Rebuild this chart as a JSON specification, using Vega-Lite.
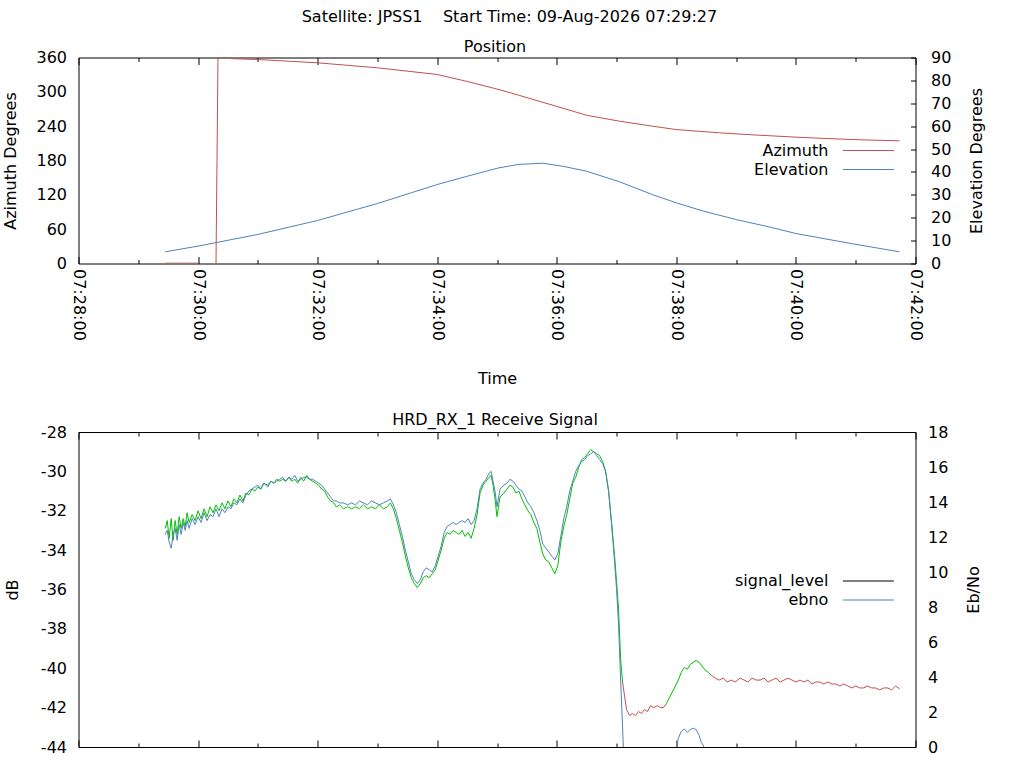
{
  "$schema": "https://vega.github.io/schema/vega-lite/v6.json",
  "background": "white",
  "padding": {"left": 1.5, "top": 8.5, "right": 10, "bottom": 0},
  "title": {"text": "Satellite: JPSS1\u00a0\u00a0\u00a0\u00a0Start Time: 09-Aug-2026 07:29:27", "anchor": "middle", "dx": 15.5, "offset": 13.5},
  "spacing": 23.5,
  "resolve": {"scale": {"color": "independent", "stroke": "independent"}, "legend": {"color": "independent", "stroke": "independent"}},
  "config": {
    "font": "DejaVu Sans",
    "view": {"stroke": "black", "strokeWidth": 1},
    "axis": {"domain": false, "grid": false, "labelFont": "DejaVu Sans", "labelFontSize": 16, "labelColor": "black", "titleFont": "DejaVu Sans", "titleFontSize": 16, "titleFontWeight": "normal", "titleColor": "black", "tickColor": "black", "tickWidth": 1, "labelOverlap": false},
    "title": {"font": "DejaVu Sans", "fontSize": 16, "fontWeight": "normal", "color": "black"},
    "legend": {"labelFont": "DejaVu Sans", "labelFontSize": 16, "labelColor": "black"},
    "line": {"strokeWidth": 1}
  },
  "datasets": {
    "az": [
      {"t": "2026-08-09T07:29:27", "v": 0.5, "seg": 1},
      {"t": "2026-08-09T07:30:01", "v": 0.5, "seg": 1},
      {"t": "2026-08-09T07:30:18", "v": 0, "seg": 2},
      {"t": "2026-08-09T07:30:19", "v": 180, "seg": 2},
      {"t": "2026-08-09T07:30:20", "v": 360, "seg": 2},
      {"t": "2026-08-09T07:30:32", "v": 360, "seg": 2},
      {"t": "2026-08-09T07:30:33", "v": 358, "seg": 2},
      {"t": "2026-08-09T07:31:00", "v": 356.5, "seg": 2},
      {"t": "2026-08-09T07:32:00", "v": 350.7, "seg": 2},
      {"t": "2026-08-09T07:33:00", "v": 342, "seg": 2},
      {"t": "2026-08-09T07:34:00", "v": 330.3, "seg": 2},
      {"t": "2026-08-09T07:34:29", "v": 318.6, "seg": 2},
      {"t": "2026-08-09T07:35:02", "v": 304, "seg": 2},
      {"t": "2026-08-09T07:35:22", "v": 294, "seg": 2},
      {"t": "2026-08-09T07:35:59", "v": 275, "seg": 2},
      {"t": "2026-08-09T07:36:30", "v": 259, "seg": 2},
      {"t": "2026-08-09T07:37:03", "v": 248.7, "seg": 2},
      {"t": "2026-08-09T07:37:36", "v": 240, "seg": 2},
      {"t": "2026-08-09T07:38:00", "v": 234, "seg": 2},
      {"t": "2026-08-09T07:38:43", "v": 228.4, "seg": 2},
      {"t": "2026-08-09T07:39:17", "v": 224.8, "seg": 2},
      {"t": "2026-08-09T07:40:00", "v": 220.8, "seg": 2},
      {"t": "2026-08-09T07:40:31", "v": 218.4, "seg": 2},
      {"t": "2026-08-09T07:41:04", "v": 216.2, "seg": 2},
      {"t": "2026-08-09T07:41:44", "v": 214.4, "seg": 2}
    ],
    "el": [
      {"t": "2026-08-09T07:29:27", "v": 5.1},
      {"t": "2026-08-09T07:30:00", "v": 7.6},
      {"t": "2026-08-09T07:31:00", "v": 12.7},
      {"t": "2026-08-09T07:32:00", "v": 18.8},
      {"t": "2026-08-09T07:33:00", "v": 26.2},
      {"t": "2026-08-09T07:34:00", "v": 34.5},
      {"t": "2026-08-09T07:34:29", "v": 38.0},
      {"t": "2026-08-09T07:35:02", "v": 41.8},
      {"t": "2026-08-09T07:35:22", "v": 43.3},
      {"t": "2026-08-09T07:35:46", "v": 43.8},
      {"t": "2026-08-09T07:36:06", "v": 42.5},
      {"t": "2026-08-09T07:36:30", "v": 40.3},
      {"t": "2026-08-09T07:37:03", "v": 35.7},
      {"t": "2026-08-09T07:37:36", "v": 30.1},
      {"t": "2026-08-09T07:38:00", "v": 26.5},
      {"t": "2026-08-09T07:38:27", "v": 22.9},
      {"t": "2026-08-09T07:39:00", "v": 19.2},
      {"t": "2026-08-09T07:39:34", "v": 15.9},
      {"t": "2026-08-09T07:40:00", "v": 13.1},
      {"t": "2026-08-09T07:40:24", "v": 11.2},
      {"t": "2026-08-09T07:40:57", "v": 8.6},
      {"t": "2026-08-09T07:41:44", "v": 5.1}
    ],
    "sig": [
      {"t": "2026-08-09T07:29:27", "s": -32.9, "seg": 1},
      {"t": "2026-08-09T07:29:29", "s": -32.5, "seg": 1},
      {"t": "2026-08-09T07:29:31", "s": -33.4, "seg": 1},
      {"t": "2026-08-09T07:29:33", "s": -32.4, "seg": 1},
      {"t": "2026-08-09T07:29:35", "s": -33.5, "seg": 1},
      {"t": "2026-08-09T07:29:37", "s": -32.5, "seg": 1},
      {"t": "2026-08-09T07:29:39", "s": -33.2, "seg": 1},
      {"t": "2026-08-09T07:29:41", "s": -32.3, "seg": 1},
      {"t": "2026-08-09T07:29:43", "s": -32.9, "seg": 1},
      {"t": "2026-08-09T07:29:45", "s": -32.4, "seg": 1},
      {"t": "2026-08-09T07:29:47", "s": -32.8, "seg": 1},
      {"t": "2026-08-09T07:29:49", "s": -32.1, "seg": 1},
      {"t": "2026-08-09T07:29:51", "s": -32.6, "seg": 1},
      {"t": "2026-08-09T07:29:54", "s": -32.2, "seg": 1},
      {"t": "2026-08-09T07:29:57", "s": -32.5, "seg": 1},
      {"t": "2026-08-09T07:30:00", "s": -32.0, "seg": 1},
      {"t": "2026-08-09T07:30:03", "s": -32.4, "seg": 1},
      {"t": "2026-08-09T07:30:06", "s": -31.9, "seg": 1},
      {"t": "2026-08-09T07:30:09", "s": -32.3, "seg": 1},
      {"t": "2026-08-09T07:30:12", "s": -31.8, "seg": 1},
      {"t": "2026-08-09T07:30:15", "s": -32.1, "seg": 1},
      {"t": "2026-08-09T07:30:18", "s": -31.7, "seg": 1},
      {"t": "2026-08-09T07:30:21", "s": -32.0, "seg": 1},
      {"t": "2026-08-09T07:30:24", "s": -31.6, "seg": 1},
      {"t": "2026-08-09T07:30:27", "s": -31.9, "seg": 1},
      {"t": "2026-08-09T07:30:30", "s": -31.5, "seg": 1},
      {"t": "2026-08-09T07:30:33", "s": -31.8, "seg": 1},
      {"t": "2026-08-09T07:30:36", "s": -31.4, "seg": 1},
      {"t": "2026-08-09T07:30:39", "s": -31.6, "seg": 1},
      {"t": "2026-08-09T07:30:42", "s": -31.2, "seg": 1},
      {"t": "2026-08-09T07:30:45", "s": -31.5, "seg": 1},
      {"t": "2026-08-09T07:30:48", "s": -31.1, "seg": 1},
      {"t": "2026-08-09T07:30:51", "s": -31.2, "seg": 1},
      {"t": "2026-08-09T07:30:54", "s": -30.9, "seg": 1},
      {"t": "2026-08-09T07:30:57", "s": -31.0, "seg": 1},
      {"t": "2026-08-09T07:31:00", "s": -30.8, "seg": 1},
      {"t": "2026-08-09T07:31:03", "s": -30.9, "seg": 1},
      {"t": "2026-08-09T07:31:06", "s": -30.6, "seg": 1},
      {"t": "2026-08-09T07:31:10", "s": -30.7, "seg": 1},
      {"t": "2026-08-09T07:31:13", "s": -30.5, "seg": 1},
      {"t": "2026-08-09T07:31:16", "s": -30.6, "seg": 1},
      {"t": "2026-08-09T07:31:19", "s": -30.4, "seg": 1},
      {"t": "2026-08-09T07:31:22", "s": -30.5, "seg": 1},
      {"t": "2026-08-09T07:31:25", "s": -30.4, "seg": 1},
      {"t": "2026-08-09T07:31:28", "s": -30.5, "seg": 1},
      {"t": "2026-08-09T07:31:31", "s": -30.3, "seg": 1},
      {"t": "2026-08-09T07:31:34", "s": -30.5, "seg": 1},
      {"t": "2026-08-09T07:31:37", "s": -30.4, "seg": 1},
      {"t": "2026-08-09T07:31:40", "s": -30.6, "seg": 1},
      {"t": "2026-08-09T07:31:43", "s": -30.3, "seg": 1},
      {"t": "2026-08-09T07:31:46", "s": -30.5, "seg": 1},
      {"t": "2026-08-09T07:31:49", "s": -30.2, "seg": 1},
      {"t": "2026-08-09T07:31:52", "s": -30.4, "seg": 1},
      {"t": "2026-08-09T07:31:55", "s": -30.5, "seg": 1},
      {"t": "2026-08-09T07:31:58", "s": -30.6, "seg": 1},
      {"t": "2026-08-09T07:32:01", "s": -30.7, "seg": 1},
      {"t": "2026-08-09T07:32:04", "s": -30.9, "seg": 1},
      {"t": "2026-08-09T07:32:07", "s": -31.0, "seg": 1},
      {"t": "2026-08-09T07:32:10", "s": -31.3, "seg": 1},
      {"t": "2026-08-09T07:32:13", "s": -31.5, "seg": 1},
      {"t": "2026-08-09T07:32:16", "s": -31.6, "seg": 1},
      {"t": "2026-08-09T07:32:19", "s": -31.8, "seg": 1},
      {"t": "2026-08-09T07:32:22", "s": -31.7, "seg": 1},
      {"t": "2026-08-09T07:32:26", "s": -31.9, "seg": 1},
      {"t": "2026-08-09T07:32:30", "s": -31.8, "seg": 1},
      {"t": "2026-08-09T07:32:34", "s": -31.9, "seg": 1},
      {"t": "2026-08-09T07:32:38", "s": -31.8, "seg": 1},
      {"t": "2026-08-09T07:32:42", "s": -31.9, "seg": 1},
      {"t": "2026-08-09T07:32:46", "s": -31.7, "seg": 1},
      {"t": "2026-08-09T07:32:50", "s": -31.9, "seg": 1},
      {"t": "2026-08-09T07:32:54", "s": -31.8, "seg": 1},
      {"t": "2026-08-09T07:32:58", "s": -31.9, "seg": 1},
      {"t": "2026-08-09T07:33:02", "s": -31.7, "seg": 1},
      {"t": "2026-08-09T07:33:06", "s": -31.9, "seg": 1},
      {"t": "2026-08-09T07:33:10", "s": -31.8, "seg": 1},
      {"t": "2026-08-09T07:33:13", "s": -31.6, "seg": 1},
      {"t": "2026-08-09T07:33:16", "s": -31.9, "seg": 1},
      {"t": "2026-08-09T07:33:19", "s": -32.4, "seg": 1},
      {"t": "2026-08-09T07:33:22", "s": -33.0, "seg": 1},
      {"t": "2026-08-09T07:33:25", "s": -33.6, "seg": 1},
      {"t": "2026-08-09T07:33:28", "s": -34.3, "seg": 1},
      {"t": "2026-08-09T07:33:31", "s": -34.9, "seg": 1},
      {"t": "2026-08-09T07:33:34", "s": -35.4, "seg": 1},
      {"t": "2026-08-09T07:33:37", "s": -35.7, "seg": 1},
      {"t": "2026-08-09T07:33:40", "s": -35.9, "seg": 1},
      {"t": "2026-08-09T07:33:43", "s": -35.7, "seg": 1},
      {"t": "2026-08-09T07:33:46", "s": -35.4, "seg": 1},
      {"t": "2026-08-09T07:33:49", "s": -35.3, "seg": 1},
      {"t": "2026-08-09T07:33:52", "s": -35.4, "seg": 1},
      {"t": "2026-08-09T07:33:55", "s": -35.2, "seg": 1},
      {"t": "2026-08-09T07:33:58", "s": -35.0, "seg": 1},
      {"t": "2026-08-09T07:34:01", "s": -34.5, "seg": 1},
      {"t": "2026-08-09T07:34:04", "s": -34.0, "seg": 1},
      {"t": "2026-08-09T07:34:07", "s": -33.4, "seg": 1},
      {"t": "2026-08-09T07:34:10", "s": -33.1, "seg": 1},
      {"t": "2026-08-09T07:34:13", "s": -33.2, "seg": 1},
      {"t": "2026-08-09T07:34:16", "s": -33.0, "seg": 1},
      {"t": "2026-08-09T07:34:19", "s": -33.1, "seg": 1},
      {"t": "2026-08-09T07:34:22", "s": -33.2, "seg": 1},
      {"t": "2026-08-09T07:34:25", "s": -33.0, "seg": 1},
      {"t": "2026-08-09T07:34:28", "s": -33.3, "seg": 1},
      {"t": "2026-08-09T07:34:31", "s": -33.1, "seg": 1},
      {"t": "2026-08-09T07:34:34", "s": -33.4, "seg": 1},
      {"t": "2026-08-09T07:34:37", "s": -32.9, "seg": 1},
      {"t": "2026-08-09T07:34:40", "s": -32.2, "seg": 1},
      {"t": "2026-08-09T07:34:43", "s": -31.1, "seg": 1},
      {"t": "2026-08-09T07:34:46", "s": -30.7, "seg": 1},
      {"t": "2026-08-09T07:34:49", "s": -30.5, "seg": 1},
      {"t": "2026-08-09T07:34:52", "s": -30.3, "seg": 1},
      {"t": "2026-08-09T07:34:54", "s": -30.2, "seg": 1},
      {"t": "2026-08-09T07:34:56", "s": -30.7, "seg": 1},
      {"t": "2026-08-09T07:34:58", "s": -31.4, "seg": 1},
      {"t": "2026-08-09T07:35:00", "s": -32.3, "seg": 1},
      {"t": "2026-08-09T07:35:03", "s": -31.3, "seg": 1},
      {"t": "2026-08-09T07:35:07", "s": -31.1, "seg": 1},
      {"t": "2026-08-09T07:35:10", "s": -30.9, "seg": 1},
      {"t": "2026-08-09T07:35:13", "s": -30.7, "seg": 1},
      {"t": "2026-08-09T07:35:16", "s": -30.8, "seg": 1},
      {"t": "2026-08-09T07:35:19", "s": -31.1, "seg": 1},
      {"t": "2026-08-09T07:35:22", "s": -31.0, "seg": 1},
      {"t": "2026-08-09T07:35:25", "s": -31.4, "seg": 1},
      {"t": "2026-08-09T07:35:28", "s": -31.7, "seg": 1},
      {"t": "2026-08-09T07:35:31", "s": -32.0, "seg": 1},
      {"t": "2026-08-09T07:35:34", "s": -32.2, "seg": 1},
      {"t": "2026-08-09T07:35:37", "s": -32.6, "seg": 1},
      {"t": "2026-08-09T07:35:40", "s": -32.9, "seg": 1},
      {"t": "2026-08-09T07:35:43", "s": -33.6, "seg": 1},
      {"t": "2026-08-09T07:35:46", "s": -34.2, "seg": 1},
      {"t": "2026-08-09T07:35:49", "s": -34.5, "seg": 1},
      {"t": "2026-08-09T07:35:52", "s": -34.6, "seg": 1},
      {"t": "2026-08-09T07:35:55", "s": -34.9, "seg": 1},
      {"t": "2026-08-09T07:35:58", "s": -35.2, "seg": 1},
      {"t": "2026-08-09T07:36:01", "s": -34.8, "seg": 1},
      {"t": "2026-08-09T07:36:04", "s": -33.6, "seg": 1},
      {"t": "2026-08-09T07:36:07", "s": -32.8, "seg": 1},
      {"t": "2026-08-09T07:36:10", "s": -32.2, "seg": 1},
      {"t": "2026-08-09T07:36:13", "s": -31.4, "seg": 1},
      {"t": "2026-08-09T07:36:16", "s": -30.6, "seg": 1},
      {"t": "2026-08-09T07:36:19", "s": -30.3, "seg": 1},
      {"t": "2026-08-09T07:36:22", "s": -29.8, "seg": 1},
      {"t": "2026-08-09T07:36:25", "s": -29.4, "seg": 1},
      {"t": "2026-08-09T07:36:28", "s": -29.3, "seg": 1},
      {"t": "2026-08-09T07:36:31", "s": -29.1, "seg": 1},
      {"t": "2026-08-09T07:36:34", "s": -28.9, "seg": 1},
      {"t": "2026-08-09T07:36:37", "s": -29.0, "seg": 1},
      {"t": "2026-08-09T07:36:40", "s": -29.1, "seg": 1},
      {"t": "2026-08-09T07:36:43", "s": -29.2, "seg": 1},
      {"t": "2026-08-09T07:36:46", "s": -29.5, "seg": 1},
      {"t": "2026-08-09T07:36:49", "s": -30.0, "seg": 1},
      {"t": "2026-08-09T07:36:52", "s": -31.0, "seg": 1},
      {"t": "2026-08-09T07:36:55", "s": -32.6, "seg": 1},
      {"t": "2026-08-09T07:36:58", "s": -34.3, "seg": 1},
      {"t": "2026-08-09T07:37:00", "s": -35.6, "seg": 1},
      {"t": "2026-08-09T07:37:02", "s": -37.0, "seg": 1},
      {"t": "2026-08-09T07:37:04", "s": -39.5, "seg": 1},
      {"t": "2026-08-09T07:37:06", "s": -40.7, "seg": 1},
      {"t": "2026-08-09T07:37:06", "s": -40.7, "seg": 2},
      {"t": "2026-08-09T07:37:08", "s": -41.4, "seg": 2},
      {"t": "2026-08-09T07:37:10", "s": -42.1, "seg": 2},
      {"t": "2026-08-09T07:37:13", "s": -42.4, "seg": 2},
      {"t": "2026-08-09T07:37:16", "s": -42.3, "seg": 2},
      {"t": "2026-08-09T07:37:19", "s": -42.4, "seg": 2},
      {"t": "2026-08-09T07:37:22", "s": -42.2, "seg": 2},
      {"t": "2026-08-09T07:37:25", "s": -42.3, "seg": 2},
      {"t": "2026-08-09T07:37:28", "s": -42.1, "seg": 2},
      {"t": "2026-08-09T07:37:31", "s": -42.2, "seg": 2},
      {"t": "2026-08-09T07:37:34", "s": -41.9, "seg": 2},
      {"t": "2026-08-09T07:37:37", "s": -42.0, "seg": 2},
      {"t": "2026-08-09T07:37:41", "s": -41.9, "seg": 2},
      {"t": "2026-08-09T07:37:44", "s": -42.0, "seg": 2},
      {"t": "2026-08-09T07:37:47", "s": -42.0, "seg": 2},
      {"t": "2026-08-09T07:37:50", "s": -41.8, "seg": 2},
      {"t": "2026-08-09T07:37:50", "s": -41.8, "seg": 3},
      {"t": "2026-08-09T07:37:53", "s": -41.5, "seg": 3},
      {"t": "2026-08-09T07:37:56", "s": -41.2, "seg": 3},
      {"t": "2026-08-09T07:37:59", "s": -40.9, "seg": 3},
      {"t": "2026-08-09T07:38:02", "s": -40.6, "seg": 3},
      {"t": "2026-08-09T07:38:05", "s": -40.2, "seg": 3},
      {"t": "2026-08-09T07:38:08", "s": -39.95, "seg": 3},
      {"t": "2026-08-09T07:38:11", "s": -40.05, "seg": 3},
      {"t": "2026-08-09T07:38:14", "s": -39.8, "seg": 3},
      {"t": "2026-08-09T07:38:17", "s": -39.7, "seg": 3},
      {"t": "2026-08-09T07:38:20", "s": -39.6, "seg": 3},
      {"t": "2026-08-09T07:38:23", "s": -39.7, "seg": 3},
      {"t": "2026-08-09T07:38:26", "s": -39.9, "seg": 3},
      {"t": "2026-08-09T07:38:29", "s": -40.1, "seg": 3},
      {"t": "2026-08-09T07:38:32", "s": -40.2, "seg": 3},
      {"t": "2026-08-09T07:38:35", "s": -40.35, "seg": 3},
      {"t": "2026-08-09T07:38:35", "s": -40.35, "seg": 4},
      {"t": "2026-08-09T07:38:39", "s": -40.5, "seg": 4},
      {"t": "2026-08-09T07:38:43", "s": -40.6, "seg": 4},
      {"t": "2026-08-09T07:38:47", "s": -40.5, "seg": 4},
      {"t": "2026-08-09T07:38:51", "s": -40.7, "seg": 4},
      {"t": "2026-08-09T07:38:55", "s": -40.6, "seg": 4},
      {"t": "2026-08-09T07:38:59", "s": -40.7, "seg": 4},
      {"t": "2026-08-09T07:39:04", "s": -40.5, "seg": 4},
      {"t": "2026-08-09T07:39:08", "s": -40.6, "seg": 4},
      {"t": "2026-08-09T07:39:12", "s": -40.7, "seg": 4},
      {"t": "2026-08-09T07:39:16", "s": -40.5, "seg": 4},
      {"t": "2026-08-09T07:39:20", "s": -40.6, "seg": 4},
      {"t": "2026-08-09T07:39:24", "s": -40.6, "seg": 4},
      {"t": "2026-08-09T07:39:28", "s": -40.5, "seg": 4},
      {"t": "2026-08-09T07:39:32", "s": -40.7, "seg": 4},
      {"t": "2026-08-09T07:39:36", "s": -40.6, "seg": 4},
      {"t": "2026-08-09T07:39:40", "s": -40.5, "seg": 4},
      {"t": "2026-08-09T07:39:44", "s": -40.7, "seg": 4},
      {"t": "2026-08-09T07:39:48", "s": -40.6, "seg": 4},
      {"t": "2026-08-09T07:39:52", "s": -40.5, "seg": 4},
      {"t": "2026-08-09T07:39:56", "s": -40.6, "seg": 4},
      {"t": "2026-08-09T07:40:00", "s": -40.7, "seg": 4},
      {"t": "2026-08-09T07:40:04", "s": -40.6, "seg": 4},
      {"t": "2026-08-09T07:40:08", "s": -40.7, "seg": 4},
      {"t": "2026-08-09T07:40:12", "s": -40.6, "seg": 4},
      {"t": "2026-08-09T07:40:16", "s": -40.8, "seg": 4},
      {"t": "2026-08-09T07:40:20", "s": -40.7, "seg": 4},
      {"t": "2026-08-09T07:40:24", "s": -40.7, "seg": 4},
      {"t": "2026-08-09T07:40:28", "s": -40.8, "seg": 4},
      {"t": "2026-08-09T07:40:32", "s": -40.7, "seg": 4},
      {"t": "2026-08-09T07:40:36", "s": -40.8, "seg": 4},
      {"t": "2026-08-09T07:40:40", "s": -40.8, "seg": 4},
      {"t": "2026-08-09T07:40:44", "s": -40.9, "seg": 4},
      {"t": "2026-08-09T07:40:48", "s": -40.8, "seg": 4},
      {"t": "2026-08-09T07:40:52", "s": -40.9, "seg": 4},
      {"t": "2026-08-09T07:40:56", "s": -41.0, "seg": 4},
      {"t": "2026-08-09T07:41:00", "s": -40.9, "seg": 4},
      {"t": "2026-08-09T07:41:04", "s": -41.0, "seg": 4},
      {"t": "2026-08-09T07:41:08", "s": -41.0, "seg": 4},
      {"t": "2026-08-09T07:41:12", "s": -40.9, "seg": 4},
      {"t": "2026-08-09T07:41:16", "s": -41.0, "seg": 4},
      {"t": "2026-08-09T07:41:20", "s": -41.0, "seg": 4},
      {"t": "2026-08-09T07:41:24", "s": -41.1, "seg": 4},
      {"t": "2026-08-09T07:41:28", "s": -41.0, "seg": 4},
      {"t": "2026-08-09T07:41:32", "s": -41.0, "seg": 4},
      {"t": "2026-08-09T07:41:36", "s": -41.1, "seg": 4},
      {"t": "2026-08-09T07:41:40", "s": -40.9, "seg": 4},
      {"t": "2026-08-09T07:41:44", "s": -41.05, "seg": 4}
    ],
    "eb": [
      {"t": "2026-08-09T07:29:27", "e": 12.15},
      {"t": "2026-08-09T07:29:29", "e": 12.38},
      {"t": "2026-08-09T07:29:31", "e": 11.70},
      {"t": "2026-08-09T07:29:33", "e": 11.36},
      {"t": "2026-08-09T07:29:35", "e": 12.15},
      {"t": "2026-08-09T07:29:37", "e": 12.49},
      {"t": "2026-08-09T07:29:39", "e": 11.81},
      {"t": "2026-08-09T07:29:41", "e": 12.71},
      {"t": "2026-08-09T07:29:43", "e": 12.15},
      {"t": "2026-08-09T07:29:45", "e": 12.83},
      {"t": "2026-08-09T07:29:47", "e": 12.38},
      {"t": "2026-08-09T07:29:49", "e": 12.94},
      {"t": "2026-08-09T07:29:51", "e": 12.49},
      {"t": "2026-08-09T07:29:54", "e": 13.05},
      {"t": "2026-08-09T07:29:57", "e": 12.71},
      {"t": "2026-08-09T07:30:00", "e": 13.16},
      {"t": "2026-08-09T07:30:03", "e": 12.83},
      {"t": "2026-08-09T07:30:06", "e": 13.39},
      {"t": "2026-08-09T07:30:09", "e": 12.94},
      {"t": "2026-08-09T07:30:12", "e": 13.28},
      {"t": "2026-08-09T07:30:15", "e": 13.16},
      {"t": "2026-08-09T07:30:18", "e": 13.61},
      {"t": "2026-08-09T07:30:21", "e": 13.16},
      {"t": "2026-08-09T07:30:24", "e": 13.61},
      {"t": "2026-08-09T07:30:27", "e": 13.39},
      {"t": "2026-08-09T07:30:30", "e": 13.73},
      {"t": "2026-08-09T07:30:33", "e": 13.61},
      {"t": "2026-08-09T07:30:36", "e": 13.95},
      {"t": "2026-08-09T07:30:39", "e": 13.84},
      {"t": "2026-08-09T07:30:42", "e": 14.18},
      {"t": "2026-08-09T07:30:45", "e": 13.95},
      {"t": "2026-08-09T07:30:48", "e": 14.40},
      {"t": "2026-08-09T07:30:51", "e": 14.63},
      {"t": "2026-08-09T07:30:54", "e": 14.74},
      {"t": "2026-08-09T07:30:57", "e": 14.85},
      {"t": "2026-08-09T07:31:00", "e": 14.96},
      {"t": "2026-08-09T07:31:03", "e": 14.74},
      {"t": "2026-08-09T07:31:06", "e": 15.08},
      {"t": "2026-08-09T07:31:10", "e": 14.85},
      {"t": "2026-08-09T07:31:13", "e": 15.19},
      {"t": "2026-08-09T07:31:16", "e": 15.08},
      {"t": "2026-08-09T07:31:19", "e": 15.19},
      {"t": "2026-08-09T07:31:22", "e": 15.30},
      {"t": "2026-08-09T07:31:25", "e": 15.41},
      {"t": "2026-08-09T07:31:28", "e": 15.19},
      {"t": "2026-08-09T07:31:31", "e": 15.41},
      {"t": "2026-08-09T07:31:34", "e": 15.30},
      {"t": "2026-08-09T07:31:37", "e": 15.53},
      {"t": "2026-08-09T07:31:40", "e": 15.19},
      {"t": "2026-08-09T07:31:43", "e": 15.30},
      {"t": "2026-08-09T07:31:46", "e": 15.41},
      {"t": "2026-08-09T07:31:49", "e": 15.41},
      {"t": "2026-08-09T07:31:52", "e": 15.30},
      {"t": "2026-08-09T07:31:55", "e": 15.30},
      {"t": "2026-08-09T07:31:58", "e": 15.19},
      {"t": "2026-08-09T07:32:01", "e": 15.08},
      {"t": "2026-08-09T07:32:04", "e": 14.96},
      {"t": "2026-08-09T07:32:07", "e": 14.74},
      {"t": "2026-08-09T07:32:10", "e": 14.51},
      {"t": "2026-08-09T07:32:13", "e": 14.29},
      {"t": "2026-08-09T07:32:16", "e": 14.06},
      {"t": "2026-08-09T07:32:19", "e": 14.06},
      {"t": "2026-08-09T07:32:22", "e": 13.95},
      {"t": "2026-08-09T07:32:26", "e": 13.95},
      {"t": "2026-08-09T07:32:30", "e": 13.84},
      {"t": "2026-08-09T07:32:34", "e": 13.95},
      {"t": "2026-08-09T07:32:38", "e": 13.84},
      {"t": "2026-08-09T07:32:42", "e": 14.06},
      {"t": "2026-08-09T07:32:46", "e": 13.95},
      {"t": "2026-08-09T07:32:50", "e": 13.84},
      {"t": "2026-08-09T07:32:54", "e": 14.06},
      {"t": "2026-08-09T07:32:58", "e": 13.95},
      {"t": "2026-08-09T07:33:02", "e": 13.84},
      {"t": "2026-08-09T07:33:06", "e": 13.95},
      {"t": "2026-08-09T07:33:10", "e": 14.06},
      {"t": "2026-08-09T07:33:13", "e": 14.18},
      {"t": "2026-08-09T07:33:16", "e": 13.84},
      {"t": "2026-08-09T07:33:19", "e": 13.39},
      {"t": "2026-08-09T07:33:22", "e": 12.71},
      {"t": "2026-08-09T07:33:25", "e": 12.04},
      {"t": "2026-08-09T07:33:28", "e": 11.25},
      {"t": "2026-08-09T07:33:31", "e": 10.58},
      {"t": "2026-08-09T07:33:34", "e": 9.90},
      {"t": "2026-08-09T07:33:37", "e": 9.56},
      {"t": "2026-08-09T07:33:40", "e": 9.34},
      {"t": "2026-08-09T07:33:43", "e": 9.56},
      {"t": "2026-08-09T07:33:46", "e": 10.01},
      {"t": "2026-08-09T07:33:49", "e": 10.24},
      {"t": "2026-08-09T07:33:52", "e": 10.13},
      {"t": "2026-08-09T07:33:55", "e": 10.01},
      {"t": "2026-08-09T07:33:58", "e": 10.35},
      {"t": "2026-08-09T07:34:01", "e": 10.91},
      {"t": "2026-08-09T07:34:04", "e": 11.48},
      {"t": "2026-08-09T07:34:07", "e": 12.26},
      {"t": "2026-08-09T07:34:10", "e": 12.60},
      {"t": "2026-08-09T07:34:13", "e": 12.71},
      {"t": "2026-08-09T07:34:16", "e": 12.83},
      {"t": "2026-08-09T07:34:19", "e": 12.71},
      {"t": "2026-08-09T07:34:22", "e": 12.83},
      {"t": "2026-08-09T07:34:25", "e": 12.94},
      {"t": "2026-08-09T07:34:28", "e": 12.83},
      {"t": "2026-08-09T07:34:31", "e": 13.05},
      {"t": "2026-08-09T07:34:34", "e": 12.71},
      {"t": "2026-08-09T07:34:37", "e": 12.94},
      {"t": "2026-08-09T07:34:40", "e": 13.61},
      {"t": "2026-08-09T07:34:43", "e": 14.74},
      {"t": "2026-08-09T07:34:46", "e": 15.08},
      {"t": "2026-08-09T07:34:49", "e": 15.30},
      {"t": "2026-08-09T07:34:52", "e": 15.64},
      {"t": "2026-08-09T07:34:54", "e": 15.75},
      {"t": "2026-08-09T07:34:56", "e": 15.19},
      {"t": "2026-08-09T07:34:58", "e": 14.63},
      {"t": "2026-08-09T07:35:00", "e": 13.73},
      {"t": "2026-08-09T07:35:03", "e": 14.74},
      {"t": "2026-08-09T07:35:07", "e": 14.96},
      {"t": "2026-08-09T07:35:10", "e": 15.08},
      {"t": "2026-08-09T07:35:13", "e": 15.30},
      {"t": "2026-08-09T07:35:16", "e": 15.19},
      {"t": "2026-08-09T07:35:19", "e": 14.96},
      {"t": "2026-08-09T07:35:22", "e": 14.74},
      {"t": "2026-08-09T07:35:25", "e": 14.63},
      {"t": "2026-08-09T07:35:28", "e": 14.29},
      {"t": "2026-08-09T07:35:31", "e": 13.95},
      {"t": "2026-08-09T07:35:34", "e": 13.73},
      {"t": "2026-08-09T07:35:37", "e": 13.39},
      {"t": "2026-08-09T07:35:40", "e": 12.94},
      {"t": "2026-08-09T07:35:43", "e": 12.38},
      {"t": "2026-08-09T07:35:46", "e": 11.59},
      {"t": "2026-08-09T07:35:49", "e": 11.36},
      {"t": "2026-08-09T07:35:52", "e": 11.14},
      {"t": "2026-08-09T07:35:55", "e": 10.91},
      {"t": "2026-08-09T07:35:58", "e": 10.69},
      {"t": "2026-08-09T07:36:01", "e": 11.03},
      {"t": "2026-08-09T07:36:04", "e": 12.04},
      {"t": "2026-08-09T07:36:07", "e": 13.05},
      {"t": "2026-08-09T07:36:10", "e": 13.73},
      {"t": "2026-08-09T07:36:13", "e": 14.63},
      {"t": "2026-08-09T07:36:16", "e": 15.19},
      {"t": "2026-08-09T07:36:19", "e": 15.75},
      {"t": "2026-08-09T07:36:22", "e": 16.09},
      {"t": "2026-08-09T07:36:25", "e": 16.31},
      {"t": "2026-08-09T07:36:28", "e": 16.43},
      {"t": "2026-08-09T07:36:31", "e": 16.65},
      {"t": "2026-08-09T07:36:34", "e": 16.76},
      {"t": "2026-08-09T07:36:37", "e": 16.88},
      {"t": "2026-08-09T07:36:40", "e": 16.65},
      {"t": "2026-08-09T07:36:43", "e": 16.43},
      {"t": "2026-08-09T07:36:46", "e": 16.20},
      {"t": "2026-08-09T07:36:49", "e": 15.75},
      {"t": "2026-08-09T07:36:52", "e": 14.63},
      {"t": "2026-08-09T07:36:55", "e": 12.71},
      {"t": "2026-08-09T07:36:58", "e": 10.58},
      {"t": "2026-08-09T07:37:00", "e": 9.00},
      {"t": "2026-08-09T07:37:02", "e": 6.98},
      {"t": "2026-08-09T07:37:04", "e": 3.94},
      {"t": "2026-08-09T07:37:06", "e": 1.2},
      {"t": "2026-08-09T07:37:08", "e": -2},
      {"t": "2026-08-09T07:37:12", "e": -3},
      {"t": "2026-08-09T07:37:58", "e": -3},
      {"t": "2026-08-09T07:38:00", "e": 0},
      {"t": "2026-08-09T07:38:02", "e": 0.5},
      {"t": "2026-08-09T07:38:05", "e": 0.9},
      {"t": "2026-08-09T07:38:08", "e": 1.03},
      {"t": "2026-08-09T07:38:11", "e": 0.84},
      {"t": "2026-08-09T07:38:14", "e": 1.0},
      {"t": "2026-08-09T07:38:17", "e": 1.07},
      {"t": "2026-08-09T07:38:20", "e": 0.99},
      {"t": "2026-08-09T07:38:23", "e": 0.65},
      {"t": "2026-08-09T07:38:25", "e": 0.27},
      {"t": "2026-08-09T07:38:27", "e": 0.1},
      {"t": "2026-08-09T07:38:30", "e": -1},
      {"t": "2026-08-09T07:38:34", "e": -3},
      {"t": "2026-08-09T07:41:44", "e": -3}
    ]
  },
  "vconcat": [
    {
      "title": {"text": "Position", "offset": -5, "dx": -2},
      "width": 837,
      "height": 206,
      "layer": [
        {
          "data": {"name": "az"},
          "mark": {"type": "line", "clip": true, "strokeWidth": 1},
          "encoding": {
            "x": {
              "field": "t", "type": "temporal",
              "scale": {"domain": [{"year": 2026, "month": 8, "date": 9, "hours": 7, "minutes": 28}, {"year": 2026, "month": 8, "date": 9, "hours": 7, "minutes": 42}], "nice": false},
              "axis": {
                "orient": "bottom", "title": "Time", "titlePadding": 30.5,
                "values": [
                  {"year": 2026, "month": 8, "date": 9, "hours": 7, "minutes": 28}, {"year": 2026, "month": 8, "date": 9, "hours": 7, "minutes": 29},
                  {"year": 2026, "month": 8, "date": 9, "hours": 7, "minutes": 30}, {"year": 2026, "month": 8, "date": 9, "hours": 7, "minutes": 31},
                  {"year": 2026, "month": 8, "date": 9, "hours": 7, "minutes": 32}, {"year": 2026, "month": 8, "date": 9, "hours": 7, "minutes": 33},
                  {"year": 2026, "month": 8, "date": 9, "hours": 7, "minutes": 34}, {"year": 2026, "month": 8, "date": 9, "hours": 7, "minutes": 35},
                  {"year": 2026, "month": 8, "date": 9, "hours": 7, "minutes": 36}, {"year": 2026, "month": 8, "date": 9, "hours": 7, "minutes": 37},
                  {"year": 2026, "month": 8, "date": 9, "hours": 7, "minutes": 38}, {"year": 2026, "month": 8, "date": 9, "hours": 7, "minutes": 39},
                  {"year": 2026, "month": 8, "date": 9, "hours": 7, "minutes": 40}, {"year": 2026, "month": 8, "date": 9, "hours": 7, "minutes": 41},
                  {"year": 2026, "month": 8, "date": 9, "hours": 7, "minutes": 42}
                ],
                "labelExpr": "minutes(datum.value) % 2 == 0 ? timeFormat(datum.value, '%H:%M:%S') : ''",
                "labelAngle": 90, "labelFlush": false, "labelOverlap": false, "labelBound": false, "labelPadding": 12,
                "tickSize": {"condition": {"test": "minutes(datum.value) % 2 == 0", "value": -7}, "value": -4}
              }
            },
            "y": {
              "field": "v", "type": "quantitative",
              "scale": {"domain": [0, 360], "nice": false, "zero": false},
              "axis": {"orient": "left", "title": "Azimuth Degrees", "values": [0, 60, 120, 180, 240, 300, 360], "ticks": false, "labelPadding": 12, "titlePadding": 17}
            },
            "color": {
              "datum": "Azimuth", "type": "nominal",
              "scale": {"domain": ["Azimuth", "Elevation"], "range": ["#c0504d", "#4f81bd"]},
              "legend": {"title": null, "orient": "none", "legendX": 730, "legendY": 85, "symbolType": "M-5.1,0H5.1", "symbolSize": 100, "symbolStrokeWidth": 1, "symbolOffset": 51.9, "labelAlign": "right", "labelOffset": -48, "rowPadding": 3, "padding": 0, "labelLimit": 0, "symbolOpacity": 1}
            },
            "detail": {"field": "seg", "type": "nominal"}
          }
        },
        {
          "data": {"name": "el"},
          "mark": {"type": "line", "clip": true, "strokeWidth": 1},
          "encoding": {
            "x": {
              "field": "t", "type": "temporal",
              "scale": {"domain": [{"year": 2026, "month": 8, "date": 9, "hours": 7, "minutes": 28}, {"year": 2026, "month": 8, "date": 9, "hours": 7, "minutes": 42}], "nice": false},
              "axis": {
                "orient": "top", "title": null, "labels": false,
                "values": [
                  {"year": 2026, "month": 8, "date": 9, "hours": 7, "minutes": 28}, {"year": 2026, "month": 8, "date": 9, "hours": 7, "minutes": 29},
                  {"year": 2026, "month": 8, "date": 9, "hours": 7, "minutes": 30}, {"year": 2026, "month": 8, "date": 9, "hours": 7, "minutes": 31},
                  {"year": 2026, "month": 8, "date": 9, "hours": 7, "minutes": 32}, {"year": 2026, "month": 8, "date": 9, "hours": 7, "minutes": 33},
                  {"year": 2026, "month": 8, "date": 9, "hours": 7, "minutes": 34}, {"year": 2026, "month": 8, "date": 9, "hours": 7, "minutes": 35},
                  {"year": 2026, "month": 8, "date": 9, "hours": 7, "minutes": 36}, {"year": 2026, "month": 8, "date": 9, "hours": 7, "minutes": 37},
                  {"year": 2026, "month": 8, "date": 9, "hours": 7, "minutes": 38}, {"year": 2026, "month": 8, "date": 9, "hours": 7, "minutes": 39},
                  {"year": 2026, "month": 8, "date": 9, "hours": 7, "minutes": 40}, {"year": 2026, "month": 8, "date": 9, "hours": 7, "minutes": 41},
                  {"year": 2026, "month": 8, "date": 9, "hours": 7, "minutes": 42}
                ],
                "tickSize": {"condition": {"test": "minutes(datum.value) % 2 == 0", "value": -7}, "value": -4}
              }
            },
            "y": {
              "field": "v", "type": "quantitative",
              "scale": {"domain": [0, 90], "nice": false, "zero": false},
              "axis": {"orient": "right", "title": "Elevation Degrees", "values": [0, 10, 20, 30, 40, 50, 60, 70, 80, 90], "ticks": true, "tickSize": -5, "labelPadding": 20, "titlePadding": 18, "titleAngle": 270, "titleBaseline": "top"}
            },
            "color": {
              "datum": "Elevation", "type": "nominal",
              "scale": {"domain": ["Azimuth", "Elevation"], "range": ["#c0504d", "#4f81bd"]}
            }
          }
        }
      ],
      "resolve": {"scale": {"y": "independent"}, "axis": {"x": "independent"}}
    },
    {
      "title": {"text": "HRD_RX_1 Receive Signal", "offset": -4, "dx": -2},
      "width": 837,
      "height": 315,
      "layer": [
        {
          "layer": [
            {
              "data": {"name": "sig"},
              "mark": {"type": "line", "clip": true, "strokeWidth": 1},
              "encoding": {
                "x": {
                  "field": "t", "type": "temporal",
                  "scale": {"domain": [{"year": 2026, "month": 8, "date": 9, "hours": 7, "minutes": 28}, {"year": 2026, "month": 8, "date": 9, "hours": 7, "minutes": 42}], "nice": false},
                  "axis": {
                    "orient": "bottom", "title": null, "labels": false,
                    "values": [
                      {"year": 2026, "month": 8, "date": 9, "hours": 7, "minutes": 28}, {"year": 2026, "month": 8, "date": 9, "hours": 7, "minutes": 29},
                      {"year": 2026, "month": 8, "date": 9, "hours": 7, "minutes": 30}, {"year": 2026, "month": 8, "date": 9, "hours": 7, "minutes": 31},
                      {"year": 2026, "month": 8, "date": 9, "hours": 7, "minutes": 32}, {"year": 2026, "month": 8, "date": 9, "hours": 7, "minutes": 33},
                      {"year": 2026, "month": 8, "date": 9, "hours": 7, "minutes": 34}, {"year": 2026, "month": 8, "date": 9, "hours": 7, "minutes": 35},
                      {"year": 2026, "month": 8, "date": 9, "hours": 7, "minutes": 36}, {"year": 2026, "month": 8, "date": 9, "hours": 7, "minutes": 37},
                      {"year": 2026, "month": 8, "date": 9, "hours": 7, "minutes": 38}, {"year": 2026, "month": 8, "date": 9, "hours": 7, "minutes": 39},
                      {"year": 2026, "month": 8, "date": 9, "hours": 7, "minutes": 40}, {"year": 2026, "month": 8, "date": 9, "hours": 7, "minutes": 41},
                      {"year": 2026, "month": 8, "date": 9, "hours": 7, "minutes": 42}
                    ],
                    "tickSize": {"condition": {"test": "minutes(datum.value) % 2 == 0", "value": -7}, "value": -4}
                  }
                },
                "y": {
                  "field": "s", "type": "quantitative",
                  "scale": {"domain": [-44, -28], "nice": false, "zero": false},
                  "axis": {"orient": "left", "title": "dB", "values": [-44, -42, -40, -38, -36, -34, -32, -30, -28], "labelExpr": "'' + datum.value", "labelOverlap": false, "ticks": false, "labelPadding": 12, "titlePadding": 20}
                },
                "color": {"field": "seg", "type": "nominal", "scale": {"domain": [1, 2, 3, 4], "range": ["#00c000", "#c0504d", "#00c000", "#c0504d"]}, "legend": null},
                "detail": {"field": "seg", "type": "nominal"}
              }
            },
            {
              "data": {"name": "sig"},
              "mark": {"type": "line", "opacity": 0},
              "encoding": {
                "x": {
                  "field": "t", "type": "temporal",
                  "axis": {
                    "orient": "bottom", "title": null, "labels": false,
                    "values": [
                      {"year": 2026, "month": 8, "date": 9, "hours": 7, "minutes": 28}, {"year": 2026, "month": 8, "date": 9, "hours": 7, "minutes": 29},
                      {"year": 2026, "month": 8, "date": 9, "hours": 7, "minutes": 30}, {"year": 2026, "month": 8, "date": 9, "hours": 7, "minutes": 31},
                      {"year": 2026, "month": 8, "date": 9, "hours": 7, "minutes": 32}, {"year": 2026, "month": 8, "date": 9, "hours": 7, "minutes": 33},
                      {"year": 2026, "month": 8, "date": 9, "hours": 7, "minutes": 34}, {"year": 2026, "month": 8, "date": 9, "hours": 7, "minutes": 35},
                      {"year": 2026, "month": 8, "date": 9, "hours": 7, "minutes": 36}, {"year": 2026, "month": 8, "date": 9, "hours": 7, "minutes": 37},
                      {"year": 2026, "month": 8, "date": 9, "hours": 7, "minutes": 38}, {"year": 2026, "month": 8, "date": 9, "hours": 7, "minutes": 39},
                      {"year": 2026, "month": 8, "date": 9, "hours": 7, "minutes": 40}, {"year": 2026, "month": 8, "date": 9, "hours": 7, "minutes": 41},
                      {"year": 2026, "month": 8, "date": 9, "hours": 7, "minutes": 42}
                    ],
                    "tickSize": {"condition": {"test": "minutes(datum.value) % 2 == 0", "value": -7}, "value": -4}
                  }
                },
                "y": {
                  "field": "s", "type": "quantitative",
                  "axis": {"orient": "left", "title": "dB", "values": [-44, -42, -40, -38, -36, -34, -32, -30, -28], "labelExpr": "'' + datum.value", "labelOverlap": false, "ticks": false, "labelPadding": 12, "titlePadding": 20}
                },
                "stroke": {
                  "datum": "signal_level", "type": "nominal",
                  "scale": {"domain": ["signal_level", "ebno"], "range": ["black", "#4f81bd"]},
                  "legend": {"title": null, "orient": "none", "legendX": 730, "legendY": 141, "symbolType": "M-5.1,0H5.1", "symbolSize": 100, "symbolStrokeWidth": 1, "symbolOffset": 51.9, "labelAlign": "right", "labelOffset": -48, "rowPadding": 3, "padding": 0, "labelLimit": 0, "symbolOpacity": 1}
                }
              }
            }
          ]
        },
        {
          "data": {"name": "eb"},
          "mark": {"type": "line", "clip": true, "strokeWidth": 1},
          "encoding": {
            "x": {
              "field": "t", "type": "temporal",
              "scale": {"domain": [{"year": 2026, "month": 8, "date": 9, "hours": 7, "minutes": 28}, {"year": 2026, "month": 8, "date": 9, "hours": 7, "minutes": 42}], "nice": false},
              "axis": {
                "orient": "top", "title": null, "labels": false,
                "values": [
                  {"year": 2026, "month": 8, "date": 9, "hours": 7, "minutes": 28}, {"year": 2026, "month": 8, "date": 9, "hours": 7, "minutes": 29},
                  {"year": 2026, "month": 8, "date": 9, "hours": 7, "minutes": 30}, {"year": 2026, "month": 8, "date": 9, "hours": 7, "minutes": 31},
                  {"year": 2026, "month": 8, "date": 9, "hours": 7, "minutes": 32}, {"year": 2026, "month": 8, "date": 9, "hours": 7, "minutes": 33},
                  {"year": 2026, "month": 8, "date": 9, "hours": 7, "minutes": 34}, {"year": 2026, "month": 8, "date": 9, "hours": 7, "minutes": 35},
                  {"year": 2026, "month": 8, "date": 9, "hours": 7, "minutes": 36}, {"year": 2026, "month": 8, "date": 9, "hours": 7, "minutes": 37},
                  {"year": 2026, "month": 8, "date": 9, "hours": 7, "minutes": 38}, {"year": 2026, "month": 8, "date": 9, "hours": 7, "minutes": 39},
                  {"year": 2026, "month": 8, "date": 9, "hours": 7, "minutes": 40}, {"year": 2026, "month": 8, "date": 9, "hours": 7, "minutes": 41},
                  {"year": 2026, "month": 8, "date": 9, "hours": 7, "minutes": 42}
                ],
                "tickSize": {"condition": {"test": "minutes(datum.value) % 2 == 0", "value": -7}, "value": -4}
              }
            },
            "y": {
              "field": "e", "type": "quantitative",
              "scale": {"domain": [0, 18], "nice": false, "zero": false},
              "axis": {"orient": "right", "title": "Eb/No", "values": [0, 2, 4, 6, 8, 10, 12, 14, 16, 18], "ticks": false, "labelPadding": 12, "titlePadding": 18, "titleAngle": 270, "titleBaseline": "top"}
            },
            "stroke": {
              "datum": "ebno", "type": "nominal",
              "scale": {"domain": ["signal_level", "ebno"], "range": ["black", "#4f81bd"]},
              "legend": {"title": null, "orient": "none", "legendX": 730, "legendY": 141, "symbolType": "M-5.1,0H5.1", "symbolSize": 100, "symbolStrokeWidth": 1, "symbolOffset": 51.9, "labelAlign": "right", "labelOffset": -48, "rowPadding": 3, "padding": 0, "labelLimit": 0, "symbolOpacity": 1}
            }
          }
        }
      ],
      "resolve": {"scale": {"y": "independent"}, "axis": {"x": "independent"}}
    }
  ]
}
